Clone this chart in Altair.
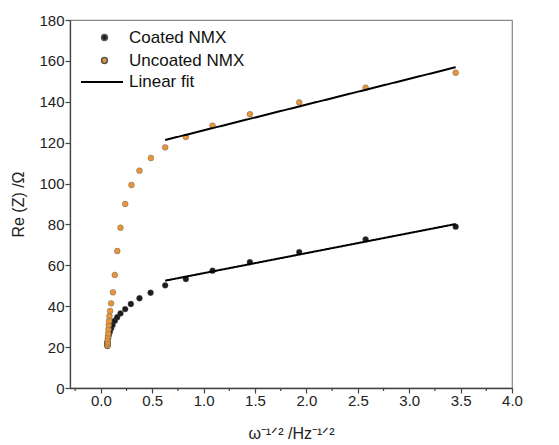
import altair as alt
import pandas as pd

# ---- data ----
coated_x = [0.064, 0.064, 0.064, 0.065, 0.065, 0.071, 0.078, 0.088, 0.100, 0.114, 0.136,
            0.159, 0.191, 0.237, 0.292, 0.376, 0.484, 0.626, 0.827, 1.087, 1.450,
            1.930, 2.576, 3.452]
coated_y = [20.6, 21.3, 22.0, 21.0, 22.7, 24.3, 25.9, 27.5, 29.2, 30.8, 32.9,
            34.6, 36.5, 38.6, 41.1, 43.9, 46.6, 50.2, 53.3, 57.4, 61.6,
            66.5, 72.7, 78.9]
uncoated_x = [0.065, 0.066, 0.067, 0.068, 0.070, 0.072, 0.074, 0.077, 0.080, 0.084,
              0.090, 0.100, 0.118, 0.136, 0.160, 0.191, 0.237, 0.298, 0.376, 0.487,
              0.626, 0.827, 1.087, 1.450, 1.930, 2.576, 3.452]
uncoated_y = [20.8, 21.8, 22.7, 24.0, 25.3, 26.7, 28.7, 30.8, 32.9, 35.2,
              37.7, 41.4, 46.8, 55.3, 67.0, 78.4, 90.0, 99.3, 106.3, 112.5,
              117.7, 122.8, 128.3, 133.9, 139.7, 146.9, 154.2]
fit_x = [0.626, 3.452]
coated_fit_y = [52.5, 80.2]
uncoated_fit_y = [121.3, 156.9]
series_names = ["Coated NMX", "Uncoated NMX"]
series_colors = ["#1c1c1c", "#E8963A"]
fit_name = "Linear fit"
x_major_ticks = [0.0, 0.5, 1.0, 1.5, 2.0, 2.5, 3.0, 3.5, 4.0]
x_minor_ticks = [-0.25, 0.25, 0.75, 1.25, 1.75, 2.25, 2.75, 3.25, 3.75]
y_ticks = list(range(0, 181, 10))

pts = pd.DataFrame({
    "x": coated_x + uncoated_x,
    "y": coated_y + uncoated_y,
    "series": [series_names[0]] * len(coated_x) + [series_names[1]] * len(uncoated_x),
})
fits = pd.DataFrame({
    "x": fit_x + fit_x,
    "y": coated_fit_y + uncoated_fit_y,
    "line": ["c", "c", "u", "u"],
    "fit": [fit_name] * 4,
})
minor = pd.DataFrame({"t": x_minor_ticks})

W, H = 442, 368
x_scale = alt.Scale(domain=[-0.3, 4.0], nice=False, zero=False)
y_scale = alt.Scale(domain=[0, 180], nice=False, zero=False)

x_axis = alt.Axis(
    values=x_major_ticks, format=".1f", tickSize=5,
    title="ω⁻¹ᐟ² /Hz⁻¹ᐟ²", grid=False, labelOverlap=False, labelFlush=False,
    labelPadding=0, titlePadding=17,
)
y_axis = alt.Axis(
    values=y_ticks,
    labelExpr="datum.value % 20 === 0 ? datum.label : ''",
    tickSize={"condition": {"test": "datum.value % 20 === 0", "value": 5}, "value": 3},
    title="Re (Z) /Ω", grid=False, labelOverlap=False, labelFlush=False,
    labelPadding=1, titlePadding=12,
)

points = alt.Chart(pts).mark_circle(size=34, opacity=1, stroke="#555", strokeWidth=0.4).encode(
    x=alt.X("x:Q", scale=x_scale, axis=x_axis),
    y=alt.Y("y:Q", scale=y_scale, axis=y_axis),
    color=alt.Color(
        "series:N",
        scale=alt.Scale(domain=series_names, range=series_colors),
        legend=alt.Legend(
            title=None, orient="none", legendX=26, legendY=9, padding=0,
            symbolType="circle", symbolSize=34, labelOffset=16, rowPadding=5,
            labelFontSize=17,
        ),
    ),
)

lines = alt.Chart(fits).mark_line(color="black", strokeWidth=2).encode(
    x=alt.X("x:Q", scale=x_scale),
    y=alt.Y("y:Q", scale=y_scale),
    detail="line:N",
    strokeDash=alt.StrokeDash(
        "fit:N",
        scale=alt.Scale(domain=[fit_name], range=[[1, 0]]),
        legend=alt.Legend(
            title=None, orient="none", legendX=10, legendY=40, padding=0,
            symbolType="stroke", symbolSize=1764, symbolStrokeColor="black",
            symbolStrokeWidth=2, labelOffset=5, labelFontSize=17,
        ),
    ),
)

minor_ticks = alt.Chart(minor).mark_rule(color="#444", strokeWidth=1.2).encode(
    x=alt.X("t:Q", scale=x_scale),
    y=alt.value(H),
    y2=alt.value(H + 3),
)

chart = alt.layer(points, lines, minor_ticks).properties(
    width=W, height=H,
    padding={"left": 2, "top": 5, "right": 10, "bottom": 5},
).configure_axis(
    labelFont="Liberation Sans", titleFont="Liberation Sans",
    labelFontSize=15, titleFontSize=16, titleFontWeight="normal",
    domainColor="#444", tickColor="#444", domainWidth=1.3, tickWidth=1.2,
    labelColor="#222", titleColor="#222",
).configure_view(
    stroke="#888", strokeWidth=1.2,
).configure_legend(
    labelFont="Liberation Sans", labelColor="#111",
)

chart.save("out.html", embed_options={"renderer": "svg", "actions": False})
